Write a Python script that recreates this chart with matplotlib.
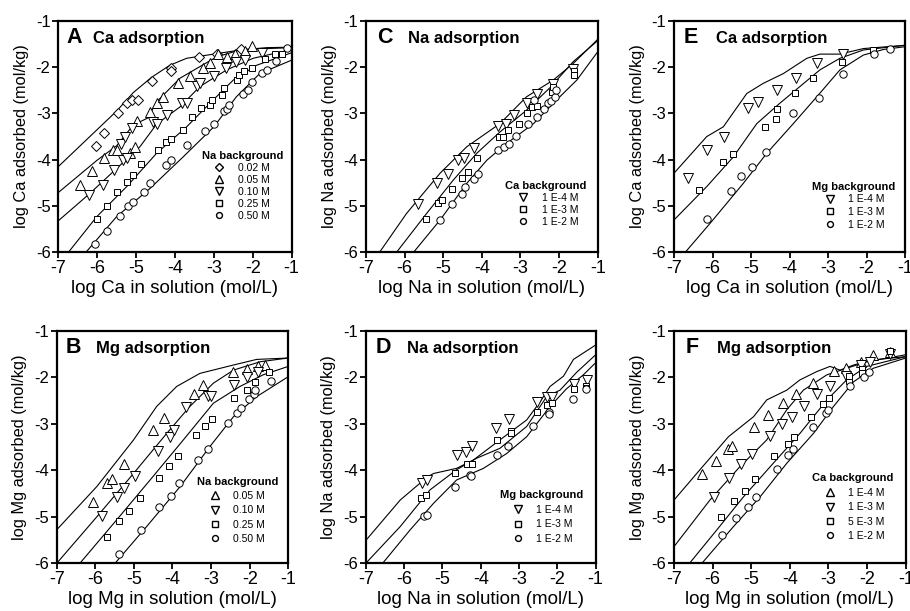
import matplotlib
matplotlib.use("Agg")
import matplotlib.pyplot as plt
import numpy as np

plt.rcParams['font.family'] = ['Liberation Sans', 'DejaVu Sans']
plt.rcParams['axes.unicode_minus'] = False

# ---------------- Panel A : Ca adsorption, Na background ----------------
A_labels = ['0.02 M', '0.05 M', '0.10 M', '0.25 M', '0.50 M']
A_pts_x = [
    [-6.04, -5.82, -5.46, -5.23, -5.11, -4.94, -4.60, -4.10, -4.09, -3.38, -2.91, -2.29],
    [-6.44, -6.12, -5.82, -5.60, -5.49, -5.16, -5.03, -4.98, -4.64, -4.47, -4.30, -3.93, -3.62, -3.27, -3.10, -2.89, -2.65, -2.46, -2.20, -2.01],
    [-6.20, -5.86, -5.57, -5.33, -5.24, -5.39, -5.29, -5.11, -4.56, -4.47, -4.21, -3.83, -3.70, -3.44, -3.36, -2.99, -2.69, -2.42, -2.20, -1.77],
    [-6.01, -5.74, -5.48, -5.24, -5.09, -4.86, -4.43, -4.24, -4.09, -3.80, -3.55, -3.33, -3.10, -3.06, -2.80, -2.74, -2.40, -2.35, -2.22, -2.03, -1.69, -1.43, -1.26],
    [-6.06, -5.74, -5.41, -5.20, -5.09, -4.80, -4.63, -4.24, -4.10, -3.70, -3.24, -2.99, -2.75, -2.67, -2.60, -2.26, -2.12, -2.01, -1.77, -1.64, -1.40, -1.13],
]
A_pts_y = [
    [-3.71, -3.42, -2.99, -2.77, -2.71, -2.71, -2.29, -2.02, -2.08, -1.79, -1.71, -1.62],
    [-4.55, -4.25, -3.97, -3.79, -3.78, -3.85, -3.72, -3.16, -2.97, -2.78, -2.64, -2.34, -2.19, -2.01, -1.92, -1.72, -1.78, -1.71, -1.65, -1.54],
    [-4.76, -4.55, -4.22, -4.01, -3.97, -3.65, -3.50, -3.32, -3.18, -3.22, -3.04, -2.78, -2.77, -2.41, -2.35, -2.19, -2.03, -1.88, -1.85, -1.69],
    [-5.27, -4.99, -4.69, -4.49, -4.33, -4.09, -3.79, -3.61, -3.56, -3.35, -3.07, -2.89, -2.81, -2.71, -2.60, -2.46, -2.28, -2.17, -2.09, -2.01, -1.83, -1.72, -1.72],
    [-5.83, -5.54, -5.22, -4.99, -4.92, -4.69, -4.50, -4.12, -4.01, -3.68, -3.38, -3.22, -2.95, -2.90, -2.82, -2.59, -2.50, -2.32, -2.12, -2.06, -1.87, -1.58],
]
A_line_x = [
    [-7, -6.0, -5.5, -5.07, -4.6, -4.13, -3.7, -2.93, -2.24, -1.0],
    [-7, -6.0, -5.5, -5.07, -4.7, -4.47, -3.87, -3.36, -2.93, -2.33, -1.64, -1.0],
    [-7, -6.19, -5.5, -4.9, -4.47, -3.87, -3.36, -2.67, -1.99, -1.0],
    [-6.74, -6.01, -5.24, -4.47, -3.70, -3.10, -2.50, -1.90, -1.0],
    [-6.29, -5.5, -4.64, -3.79, -3.0, -2.42, -1.82, -1.0],
]
A_line_y = [
    [-4.15, -3.35, -2.95, -2.55, -2.22, -1.96, -1.81, -1.71, -1.62, -1.58],
    [-4.71, -4.01, -3.70, -3.25, -3.10, -2.75, -2.24, -1.99, -1.78, -1.63, -1.58, -1.57],
    [-5.32, -4.73, -4.19, -3.72, -3.23, -2.86, -2.42, -2.06, -1.81, -1.62],
    [-6.0, -5.23, -4.58, -3.86, -3.29, -2.78, -2.28, -1.96, -1.69],
    [-6.0, -5.23, -4.62, -3.94, -3.29, -2.64, -2.14, -1.85],
]

# ---------------- Panel B : Mg adsorption, Na background ----------------
B_labels = ['0.05 M', '0.10 M', '0.25 M', '0.50 M']
B_pts_x = [
    [-6.07, -5.69, -5.57, -5.26, -4.50, -4.22, -3.44, -3.20, -2.44, -2.08, -1.78, -1.60],
    [-5.82, -5.43, -5.25, -4.97, -4.37, -4.06, -3.96, -3.66, -3.07, -3.01, -2.40, -2.08, -1.78],
    [-5.70, -5.38, -5.13, -4.84, -4.35, -4.08, -3.87, -3.40, -3.16, -2.98, -2.41, -2.08, -1.86, -1.49],
    [-5.38, -4.82, -4.34, -4.04, -3.83, -3.35, -3.07, -2.55, -2.34, -2.23, -2.03, -1.90, -1.86, -1.45],
]
B_pts_y = [
    [-4.68, -4.27, -4.18, -3.86, -3.13, -2.87, -2.37, -2.17, -1.90, -1.82, -1.77, -1.74],
    [-4.98, -4.58, -4.38, -4.12, -3.59, -3.28, -3.14, -2.65, -2.40, -2.40, -2.17, -1.99, -1.90],
    [-5.43, -5.10, -4.88, -4.60, -4.16, -3.91, -3.69, -3.24, -3.06, -2.90, -2.45, -2.28, -2.10, -1.90],
    [-5.80, -5.28, -4.80, -4.55, -4.27, -3.78, -3.54, -2.98, -2.78, -2.67, -2.46, -2.37, -2.28, -2.08],
]
B_line_x = [
    [-7, -5.96, -5.01, -4.41, -3.89, -3.29, -2.42, -1.82, -1.0],
    [-7, -5.96, -5.01, -4.15, -3.55, -2.94, -2.42, -1.73, -1.0],
    [-6.40, -5.45, -4.58, -3.72, -2.94, -2.25, -1.65, -1.0],
    [-5.49, -4.67, -3.80, -3.03, -2.42, -1.82, -1.0],
]
B_line_y = [
    [-5.28, -4.35, -3.35, -2.63, -2.20, -1.92, -1.74, -1.62, -1.59],
    [-6.0, -5.0, -4.07, -3.21, -2.63, -2.13, -1.85, -1.67, -1.59],
    [-6.0, -5.07, -4.21, -3.35, -2.56, -2.20, -1.95, -1.77],
    [-6.0, -5.21, -4.35, -3.49, -2.85, -2.42, -1.99],
]

# ---------------- Panel C : Na adsorption, Ca background ----------------
C_labels = ['1 E-4 M', '1 E-3 M', '1 E-2 M']
C_pts_x = [
    [-5.65, -5.15, -4.88, -4.61, -4.46, -4.20, -3.57, -3.38, -3.16, -2.84, -2.56, -2.17, -1.63],
    [-5.45, -5.13, -5.04, -4.76, -4.52, -4.37, -4.13, -3.55, -3.44, -3.31, -3.05, -2.84, -2.69, -2.56, -2.19, -2.15, -1.61, -1.61],
    [-5.08, -4.78, -4.52, -4.44, -4.20, -4.11, -3.57, -3.42, -3.29, -3.11, -2.81, -2.66, -2.56, -2.38, -2.28, -2.22, -2.10, -2.08],
]
C_pts_y = [
    [-4.96, -4.51, -4.31, -4.01, -3.97, -3.75, -3.27, -3.22, -3.04, -2.78, -2.59, -2.37, -2.05],
    [-5.27, -4.94, -4.87, -4.63, -4.40, -4.27, -3.97, -3.52, -3.50, -3.36, -3.22, -3.00, -2.87, -2.84, -2.53, -2.44, -2.08, -2.17],
    [-5.30, -4.96, -4.73, -4.58, -4.42, -4.31, -3.79, -3.72, -3.65, -3.48, -3.22, -2.70, -3.07, -2.91, -2.78, -2.73, -2.64, -2.50],
]
C_line_x = [
    [-6.65, -5.95, -5.08, -4.39, -3.53, -2.84, -2.15, -1.63, -1.0],
    [-6.21, -5.43, -4.74, -4.13, -3.53, -2.84, -2.23, -1.63, -1.0],
    [-5.77, -5.08, -4.39, -3.87, -3.36, -2.66, -2.15, -1.54, -1.0],
]
C_line_y = [
    [-6.0, -5.16, -4.29, -3.72, -3.22, -2.64, -2.28, -1.92, -1.40],
    [-6.0, -5.16, -4.44, -3.86, -3.40, -2.93, -2.44, -1.88, -1.43],
    [-6.0, -5.30, -4.51, -4.01, -3.65, -3.22, -2.78, -2.28, -1.67],
]

# ---------------- Panel D : Na adsorption, Mg background ----------------
D_labels = ['1 E-4 M', '1 E-3 M', '1 E-2 M']
D_pts_x = [
    [-5.52, -5.41, -4.63, -4.39, -4.22, -3.60, -3.25, -2.54, -2.28, -2.13, -1.56, -1.22],
    [-5.56, -5.43, -4.67, -4.35, -4.22, -3.57, -3.21, -3.21, -2.54, -2.26, -2.13, -1.56, -1.26, -1.26],
    [-5.47, -5.41, -4.66, -4.28, -4.26, -3.58, -3.28, -2.63, -2.23, -2.21, -1.58, -1.25],
]
D_pts_y = [
    [-4.28, -4.21, -3.67, -3.60, -3.49, -3.10, -2.90, -2.53, -2.42, -2.42, -2.15, -2.06],
    [-4.60, -4.53, -4.07, -3.87, -3.87, -3.36, -3.16, -3.21, -2.76, -2.60, -2.56, -2.25, -2.20, -2.24],
    [-4.98, -4.96, -4.35, -4.10, -4.12, -3.67, -3.49, -3.06, -2.76, -2.79, -2.47, -2.26],
]
D_line_x = [
    [-7, -6.10, -5.40, -5.23, -4.63, -4.19, -3.50, -2.80, -2.45, -2.19, -1.84, -1.58, -1.0],
    [-7, -6.10, -5.32, -4.63, -4.10, -3.50, -2.80, -2.28, -1.93, -1.50, -1.0],
    [-6.56, -5.84, -5.23, -4.63, -3.93, -3.32, -2.80, -2.19, -1.76, -1.32, -1.0],
]
D_line_y = [
    [-5.51, -4.64, -4.15, -4.07, -3.96, -3.78, -3.35, -2.92, -2.53, -2.20, -1.98, -1.62, -1.31],
    [-6.0, -5.21, -4.42, -3.99, -3.74, -3.53, -3.06, -2.42, -2.28, -1.90, -1.52],
    [-6.0, -5.28, -4.71, -4.21, -3.96, -3.64, -3.28, -2.63, -2.25, -1.95, -1.69],
]

# ---------------- Panel E : Ca adsorption, Mg background ----------------
E_labels = ['1 E-4 M', '1 E-3 M', '1 E-2 M']
E_pts_x = [
    [-6.65, -6.15, -5.70, -5.07, -4.81, -4.32, -3.84, -3.28, -2.60],
    [-6.34, -5.74, -5.48, -4.64, -4.36, -4.33, -3.86, -3.38, -2.64, -1.82],
    [-6.15, -5.53, -5.26, -4.98, -4.62, -3.92, -3.24, -2.62, -1.81, -1.39],
]
E_pts_y = [
    [-4.40, -3.79, -3.50, -2.89, -2.75, -2.50, -2.24, -1.91, -1.71],
    [-4.65, -4.06, -3.88, -3.29, -3.12, -2.90, -2.55, -2.24, -1.88, -1.63],
    [-5.27, -4.67, -4.35, -4.15, -3.83, -3.00, -2.66, -2.15, -1.71, -1.62],
]
E_line_x = [
    [-7, -6.15, -5.72, -5.11, -4.68, -4.16, -3.55, -3.21, -2.69, -2.08, -1.0],
    [-7, -6.15, -5.46, -4.85, -4.25, -3.73, -3.21, -2.69, -2.08, -1.0],
    [-6.71, -6.06, -5.20, -4.59, -3.90, -3.29, -2.69, -2.08, -1.56, -1.0],
]
E_line_y = [
    [-4.29, -3.50, -3.29, -2.57, -2.35, -2.14, -1.81, -1.72, -1.72, -1.60, -1.53],
    [-5.30, -4.58, -3.94, -3.22, -2.78, -2.42, -2.06, -1.81, -1.63, -1.53],
    [-6.0, -5.37, -4.51, -3.86, -3.22, -2.64, -2.06, -1.74, -1.62, -1.56],
]

# ---------------- Panel F : Mg adsorption, Ca background ----------------
F_labels = ['1 E-4 M', '1 E-3 M', '5 E-3 M', '1 E-2 M']
F_pts_x = [
    [-6.27, -5.91, -5.59, -5.51, -4.94, -4.56, -4.18, -3.84, -3.39, -2.87, -2.54, -2.16, -1.85, -1.42],
    [-5.96, -5.58, -5.26, -4.99, -4.51, -4.21, -3.95, -3.63, -3.29, -2.96, -2.54, -2.16, -1.92, -1.42],
    [-5.79, -5.44, -5.16, -4.90, -4.41, -4.06, -3.89, -3.45, -3.13, -2.98, -2.48, -2.48, -2.12, -2.12, -1.42],
    [-5.77, -5.39, -5.09, -4.88, -4.34, -4.04, -3.91, -3.39, -3.07, -3.00, -2.44, -2.09, -1.94],
]
F_pts_y = [
    [-4.08, -3.80, -3.54, -3.47, -3.08, -2.81, -2.55, -2.37, -2.13, -1.87, -1.80, -1.67, -1.52, -1.47],
    [-4.57, -4.17, -3.87, -3.65, -3.27, -3.01, -2.86, -2.62, -2.37, -2.19, -1.97, -1.74, -1.68, -1.50],
    [-5.01, -4.66, -4.44, -4.19, -3.69, -3.44, -3.28, -2.86, -2.58, -2.44, -2.08, -1.97, -1.83, -1.92, -1.43],
    [-5.39, -5.03, -4.78, -4.57, -3.97, -3.67, -3.55, -3.08, -2.78, -2.70, -2.20, -1.99, -1.88],
]
F_line_x = [
    [-7, -6.33, -5.59, -4.94, -4.60, -4.08, -3.74, -3.30, -2.96, -2.70, -2.35, -1.84, -1.0],
    [-7, -6.07, -5.29, -4.60, -4.08, -3.65, -3.04, -2.53, -2.01, -1.0],
    [-6.60, -5.89, -5.20, -4.43, -3.74, -3.04, -2.53, -2.01, -1.0],
    [-6.28, -5.46, -4.77, -4.08, -3.39, -2.87, -2.35, -1.84, -1.0],
]
F_line_y = [
    [-4.64, -3.99, -3.28, -2.85, -2.49, -2.28, -2.06, -1.88, -1.77, -1.85, -1.74, -1.63, -1.56],
    [-5.64, -4.64, -3.92, -3.35, -2.70, -2.28, -1.95, -1.81, -1.67, -1.52],
    [-6.0, -5.28, -4.57, -3.85, -3.21, -2.49, -2.06, -1.77, -1.56],
    [-6.0, -5.21, -4.57, -3.85, -3.21, -2.63, -2.10, -1.81, -1.59],
]

x_ticks = [-7, -6, -5, -4, -3, -2, -1]
y_ticks = [-6, -5, -4, -3, -2, -1]

MSTYLE = {'D': 5.5, '^': 6.5, 'v': 6.5, 's': 5.0, 'o': 5.3}

panels = [
    dict(rect=[0.064, 0.587, 0.2565, 0.379], letter='A', title='Ca adsorption', lx0=0.036, tx=0.147,
         xl='log Ca in solution (mol/L)', yl='log Ca adsorbed (mol/kg)', lt='Na background',
         labels=A_labels, markers=['D', '^', 'v', 's', 'o'],
         px=A_pts_x, py=A_pts_y, lx=A_line_x, ly=A_line_y, anchor=(0.963, 0.135), ls=0.2),
    dict(rect=[0.0623, 0.078, 0.2545, 0.381], letter='B', title='Mg adsorption', lx0=0.04, tx=0.17,
         xl='log Mg in solution (mol/L)', yl='log Mg adsorbed (mol/kg)', lt='Na background',
         labels=B_labels, markers=['^', 'v', 's', 'o'],
         px=B_pts_x, py=B_pts_y, lx=B_line_x, ly=B_line_y, anchor=(0.957, 0.083), ls=0.42),
    dict(rect=[0.4022, 0.587, 0.2546, 0.379], letter='C', title='Na adsorption', lx0=0.046, tx=0.18,
         xl='log Na in solution (mol/L)', yl='log Na adsorbed (mol/kg)', lt='Ca background',
         labels=C_labels, markers=['v', 's', 'o'],
         px=C_pts_x, py=C_pts_y, lx=C_line_x, ly=C_line_y, anchor=(0.952, 0.109), ls=0.2),
    dict(rect=[0.4019, 0.078, 0.2527, 0.381], letter='D', title='Na adsorption', lx0=0.045, tx=0.18,
         xl='log Na in solution (mol/L)', yl='log Na adsorbed (mol/kg)', lt='Mg background',
         labels=D_labels, markers=['v', 's', 'o'],
         px=D_pts_x, py=D_pts_y, lx=D_line_x, ly=D_line_y, anchor=(0.946, 0.085), ls=0.42),
    dict(rect=[0.7407, 0.587, 0.2538, 0.379], letter='E', title='Ca adsorption', lx0=0.04, tx=0.18,
         xl='log Ca in solution (mol/L)', yl='log Ca adsorbed (mol/kg)', lt='Mg background',
         labels=E_labels, markers=['v', 's', 'o'],
         px=E_pts_x, py=E_pts_y, lx=E_line_x, ly=E_line_y, anchor=(0.957, 0.098), ls=0.25),
    dict(rect=[0.7407, 0.078, 0.2546, 0.381], letter='F', title='Mg adsorption', lx0=0.048, tx=0.184,
         xl='log Mg in solution (mol/L)', yl='log Mg adsorbed (mol/kg)', lt='Ca background',
         labels=F_labels, markers=['^', 'v', 's', 'o'],
         px=F_pts_x, py=F_pts_y, lx=F_line_x, ly=F_line_y, anchor=(0.946, 0.096), ls=0.42),
]

fig = plt.figure(figsize=(9.10, 6.11), dpi=100)
fig.patch.set_facecolor('white')

for p in panels:
    ax = fig.add_axes(p['rect'])
    for lx, ly in zip(p['lx'], p['ly']):
        ax.plot(lx, ly, color='black', lw=0.8, zorder=2)
    handles = []
    for xs, ys, m, lab in zip(p['px'], p['py'], p['markers'], p['labels']):
        h, = ax.plot(xs, ys, linestyle='none', marker=m, markersize=MSTYLE[m],
                     markerfacecolor='white', markeredgecolor='black',
                     markeredgewidth=0.7, label=lab, zorder=3)
        handles.append(h)
    ax.set_xlim(-7, -1)
    ax.set_ylim(-6, -1)
    ax.set_xticks(x_ticks)
    ax.set_yticks(y_ticks)
    ax.set_xticklabels([str(t) for t in x_ticks])
    ax.set_yticklabels([str(t) for t in y_ticks])
    ax.tick_params(direction='out', length=4, width=1.3, pad=1.5)
    ax.tick_params(axis='x', labelsize=13)
    ax.tick_params(axis='y', labelsize=12)
    for s in ax.spines.values():
        s.set_linewidth(1.6)
    ax.set_xlabel(p['xl'], fontsize=13.5, labelpad=2.5)
    ax.set_ylabel(p['yl'], fontsize=11.8, labelpad=5)
    ax.text(p['lx0'], 0.902, p['letter'], transform=ax.transAxes, fontsize=15.5,
            fontweight='bold', ha='left', va='baseline')
    ax.text(p['tx'], 0.902, p['title'], transform=ax.transAxes, fontsize=12,
            fontweight='bold', ha='left', va='baseline')
    leg = ax.legend(handles=handles, title=p['lt'], loc='lower right',
                    bbox_to_anchor=p['anchor'], frameon=False, fontsize=7.5,
                    title_fontsize=8, borderpad=0, borderaxespad=0,
                    labelspacing=p['ls'], handlelength=3.4, handletextpad=0.1,
                    alignment='left', markerscale=0.8)
    leg.get_title().set_fontweight('bold')
    for lh in leg.legend_handles:
        lh.set_markeredgewidth(1.0)

fig.savefig('out.png', dpi=100, facecolor='white')
